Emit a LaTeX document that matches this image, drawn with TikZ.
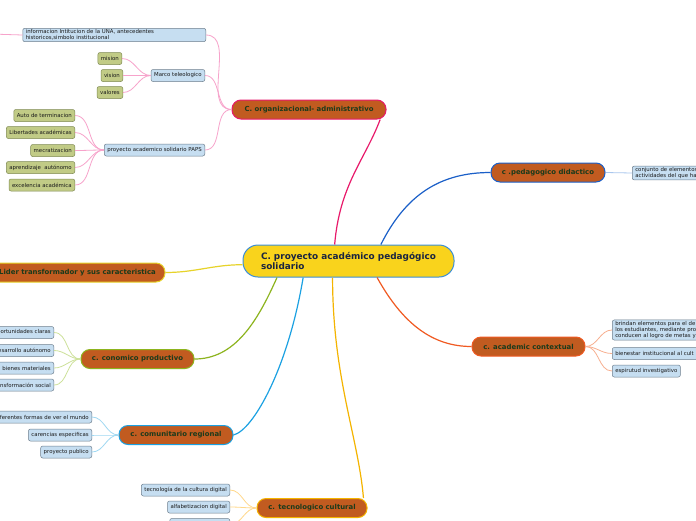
\documentclass[tikz,border=0pt]{standalone}
\usepackage{fontspec}
\setmainfont{DejaVu Sans}
\definecolor{topicfill}{HTML}{C15B20}
\definecolor{topictext}{HTML}{1B3A1B}
\definecolor{subfill}{HTML}{C6DEF1}
\definecolor{subborder}{HTML}{6E7F8E}
\definecolor{leaffill}{HTML}{C1CB86}
\definecolor{leafborder}{HTML}{7F8A52}
\definecolor{centfill}{HTML}{F9D31C}
\definecolor{centborder}{HTML}{3B8ED8}
\definecolor{centtext}{HTML}{1A2440}
\definecolor{pinkM}{HTML}{E8196A}\definecolor{pinkL}{HTML}{F7A3CB}
\definecolor{blueM}{HTML}{1A5FC8}\definecolor{blueL}{HTML}{A9C7EE}
\definecolor{yellM}{HTML}{E7D32A}
\definecolor{redM}{HTML}{F05A22}\definecolor{redL}{HTML}{F7B091}
\definecolor{greenM}{HTML}{8DB41E}\definecolor{greenL}{HTML}{CDE19A}
\definecolor{cyanM}{HTML}{1BA1E2}\definecolor{cyanL}{HTML}{9FD8F2}
\definecolor{orM}{HTML}{F4B400}\definecolor{orL}{HTML}{FFD88A}
\definecolor{subtext}{HTML}{1A1A1A}
\begin{document}
\begin{tikzpicture}[x=1pt,y=-1pt,
  topic/.style={draw=#1, line width=1pt, fill=topicfill, rounded corners=9pt,
    font=\bfseries\fontsize{6.9}{7.5}\selectfont, text=topictext, minimum height=19pt, inner sep=0pt},
  sub/.style={draw=subborder, line width=0.5pt, fill=subfill, rounded corners=2pt,
    font=\fontsize{5.4}{6.2}\selectfont, text=subtext, inner xsep=3pt, inner ysep=1.2pt,
    minimum height=12pt},
  leaf/.style={sub, fill=leaffill, draw=leafborder},
  branch/.style={draw=#1, line width=1.2pt},
  twig/.style={draw=#1, line width=0.8pt}]
\useasboundingbox (0,0) rectangle (696,520);
\fill[white] (0,0) rectangle (696,520);

% central
\node[draw=centborder, line width=1pt, fill=centfill, rounded corners=15pt,
  minimum width=211pt, minimum height=32pt, inner sep=0pt,
  font=\bfseries\fontsize{8.9}{10}\selectfont, text=centtext]
  (c) at (348.5,261) {\begin{minipage}{175pt}C. proyecto académico pedagógico\\solidario\end{minipage}};

% main topics
\node[topic=pinkM, minimum width=154pt] (org) at (309,109.5) {C. organizacional- administrativo};
\node[topic=blueM, minimum width=114pt] (ped) at (548,172.5) {c .pedagogico didactico};
\node[topic=yellM, minimum width=175pt] (lid) at (77.5,272.5) {Lider transformador y sus caracteristica};
\node[topic=redM, minimum width=113pt] (aca) at (528.5,346.5) {c. academic contextual};
\node[topic=greenM, minimum width=113pt] (eco) at (137.5,359) {c. conomico productivo};
\node[topic=cyanM, minimum width=114pt] (com) at (176,435) {c. comunitario regional};
\node[topic=orM, minimum width=110pt] (tec) at (312,508) {c. tecnologico cultural};

% organizational children
\node[sub, anchor=east, text width=177pt, align=left] (info) at (206,35)
  {informacion Intitucion de la UNA, antecedentes\\historicos,simbolo institucional};
\coordinate (offl) at (-10,34);
\node[sub, anchor=east] (marco) at (205,75.5) {Marco teleologico};
\node[leaf, anchor=east] (mis) at (122,58.5) {mision};
\node[leaf, anchor=east] (vis) at (123,75.5) {vision};
\node[leaf, anchor=east] (val) at (123,92.5) {valores};
\node[sub, anchor=east] (paps) at (205,150) {proyecto academico solidario PAPS};
\node[leaf, anchor=east] (auto) at (75,115.5) {Auto de terminacion};
\node[leaf, anchor=east] (lib) at (75,132.5) {Libertades académicas};
\node[leaf, anchor=east] (mec) at (75,150.5) {mecratizacion};
\node[leaf, anchor=east] (apr) at (75,167.5) {aprendizaje\ \ autónomo};
\node[leaf, anchor=east] (exc) at (75,185) {excelencia académica};

% pedagogico child
\node[sub, anchor=west, text width=110pt, align=left] (conj) at (632,173)
  {conjunto de elementos\\actividades del que ha};

% academic children
\node[sub, anchor=west, text width=120pt, align=left] (brin) at (612,330)
  {brindan elementos para el de\\los estudiantes, mediante pro\\conducen al logro de metas y};
\node[sub, anchor=west, text width=120pt, align=left] (bien) at (612,353.5) {bienestar institucional al cult};
\node[sub, anchor=west] (esp) at (612,371) {espirutud investigativo};

% economico children
\node[sub, anchor=east, text width=70pt, align=right] (opo) at (54,332.5) {oportunidades claras};
\node[sub, anchor=east, text width=70pt, align=right] (des) at (54,350.5) {desarrollo autónomo};
\node[sub, anchor=east, text width=70pt, align=right] (bma) at (54,368) {bienes materiales};
\node[sub, anchor=east, text width=70pt, align=right] (tra) at (54,385) {transformación social};

% comunitario children
\node[sub, anchor=east] (dif) at (92,417) {diferentes formas de ver el mundo};
\node[sub, anchor=east] (car) at (92,435) {carencias especificas};
\node[sub, anchor=east] (pub) at (92,452) {proyecto publico};

% tecnologico children
\node[sub, anchor=east] (tcd) at (230,490) {tecnología de la cultura digital};
\node[sub, anchor=east] (alf) at (230,507) {alfabetizacion digital};
\node[sub, anchor=east, minimum width=60pt] (tx3) at (230,524.5) {};

% main branches
\draw[branch=pinkM] (c.130) .. controls +(5,-60) and +(-15,40) .. (org.-8.2);
\draw[branch=blueM] (c.27) .. controls +(25,-50) and +(-50,0) .. (ped.west);
\draw[branch=yellM] (c.182) .. controls +(-30,0) and +(30,0) .. (lid.east);
\draw[branch=redM] (c.-30) .. controls +(25,45) and +(-40,0) .. (aca.west);
\draw[branch=greenM] (c.-167) .. controls +(-20,45) and +(40,0) .. (eco.east);
\draw[branch=cyanM] (c.-160) .. controls +(-15,90) and +(20,-5) .. (com.east);
\draw[branch=orM] (c.-134) .. controls +(0,100) and +(-5,-60) .. (tec.11.8);

% twigs
\foreach \t in {info,marco,paps}
  \draw[twig=pinkL] (org.west) to[out=180,in=0] (\t.east);
\draw[twig=pinkL] (info.west) -- (offl);
\foreach \t in {mis,vis,val}
  \draw[twig=pinkL] (marco.west) to[out=180,in=0] (\t.east);
\foreach \t in {auto,lib,mec,apr,exc}
  \draw[twig=pinkL] (paps.west) to[out=180,in=0] (\t.east);
\draw[twig=blueL] (ped.east) -- (conj.west);
\foreach \t in {brin,bien,esp}
  \draw[twig=redL] (aca.east) to[out=0,in=180] (\t.west);
\foreach \t in {opo,des,bma,tra}
  \draw[twig=greenL] (eco.west) to[out=180,in=0] (\t.east);
\foreach \t in {dif,car,pub}
  \draw[twig=cyanL] (com.west) to[out=180,in=0] (\t.east);
\foreach \t in {tcd,alf,tx3}
  \draw[twig=orL] (tec.west) to[out=180,in=0] (\t.east);
\end{tikzpicture}
\end{document}
